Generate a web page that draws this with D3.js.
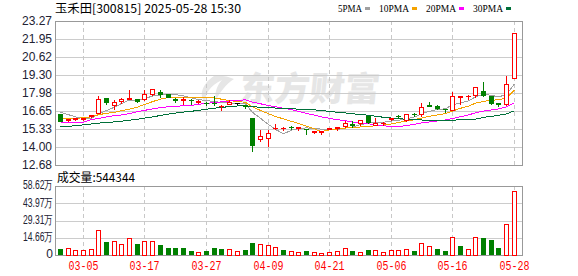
<!DOCTYPE html>
<html>
<head>
<meta charset="utf-8">
<script src="https://cdn.jsdelivr.net/npm/d3@7"></script>
<style>
  body { margin: 0; background: #fff; }
  svg { display: block; }
</style>
</head>
<body>
<svg id="chart"></svg>
<script>
// trading days shown on the chart
var dates = ["02-28","03-03","03-04","03-05","03-06","03-07","03-10","03-11","03-12","03-13",
  "03-14","03-17","03-18","03-19","03-20","03-21","03-24","03-25","03-26","03-27",
  "03-28","03-31","04-01","04-02","04-03","04-07","04-08","04-09","04-10","04-11",
  "04-14","04-15","04-16","04-17","04-18","04-21","04-22","04-23","04-24","04-25",
  "04-28","04-29","04-30","05-06","05-07","05-08","05-09","05-12","05-13","05-14",
  "05-15","05-16","05-19","05-20","05-21","05-22","05-23","05-26","05-27","05-28"];
var tickDates = ["03-05","03-17","03-27","04-09","04-21","05-06","05-16","05-28"];

var open = [16.45,16.02,16.08,16.09,16.30,16.51,17.59,17.07,17.37,17.51,
  17.56,17.51,17.93,18.05,17.93,17.54,17.47,17.47,17.34,17.27,
  17.26,17.00,17.15,17.24,17.10,16.11,14.57,14.67,15.40,15.38,
  15.50,15.40,15.35,15.08,15.08,15.35,15.43,15.53,15.67,15.75,
  16.31,15.65,15.75,16.08,16.31,15.99,16.46,16.46,17.10,17.02,
  16.82,16.72,17.70,17.72,17.84,18.13,17.74,17.26,17.16,19.08];
var high = [16.50,16.14,16.21,16.18,16.46,17.86,17.69,17.56,17.69,18.25,
  17.56,18.25,18.30,18.30,17.93,17.69,17.78,17.64,17.51,17.39,
  17.81,17.20,17.56,17.29,17.20,16.21,15.35,15.35,15.77,15.55,
  15.60,15.45,15.40,15.28,15.23,15.40,15.57,16.02,16.02,16.06,
  16.31,16.21,15.94,16.21,16.41,16.46,16.60,17.28,17.42,17.14,
  16.89,18.11,17.79,17.91,18.52,18.84,17.74,17.33,19.32,22.37];
var low = [15.88,15.94,16.02,16.02,16.19,16.48,17.15,16.80,17.27,17.51,
  17.32,17.44,17.83,17.69,17.69,17.32,17.19,17.15,17.27,17.10,
  17.10,16.69,17.15,17.20,16.90,13.69,14.42,14.06,15.35,15.23,
  15.30,15.23,14.94,15.04,14.94,15.33,15.25,15.48,15.48,15.65,
  15.77,15.62,15.65,15.96,16.11,15.94,16.29,16.29,17.00,16.77,
  16.60,16.70,17.19,17.50,17.67,17.79,17.14,17.02,17.06,19.08];
var close = [15.92,16.05,16.12,16.12,16.34,17.56,17.29,17.32,17.51,17.64,
  17.42,17.93,18.25,17.93,17.69,17.49,17.51,17.44,17.39,17.24,
  17.22,17.03,17.29,17.24,17.05,14.13,14.84,15.04,15.43,15.40,
  15.47,15.45,15.30,15.20,15.16,15.38,15.45,15.80,15.62,15.99,
  15.87,15.80,15.80,16.11,16.26,16.46,16.41,16.97,17.05,16.90,
  16.79,17.77,17.75,17.77,18.38,17.84,17.26,17.19,18.64,22.37];

var volume = [51000,57000,42000,45000,51000,212000,110000,119000,93000,142000,
  93000,119000,119000,85000,59000,59000,59000,35000,24000,34000,
  59000,51000,51000,34000,42000,102000,93000,85000,68000,42000,
  34000,25000,34000,25000,17000,25000,34000,59000,34000,25000,
  42000,42000,25000,42000,42000,51000,34000,102000,76000,51000,
  34000,153000,76000,51000,153000,144000,127000,59000,263000,544344];
// 1 = red (rising) volume bar, 0 = green
var volRise = [0,1,1,1,1,1,0,1,1,1, 0,1,1,0,0,0,0,0,1,0,
  0,0,1,1,0,0,1,1,1,0, 1,1,0,1,1,1,1,1,0,1,
  0,1,1,1,1,1,0,1,1,0, 0,1,0,1,1,0,0,0,1,1];

var ma5 = [16.56,16.38,16.22,16.12,16.11,16.44,16.69,16.93,17.20,17.46,
  17.44,17.56,17.75,17.83,17.84,17.86,17.77,17.61,17.50,17.41,
  17.36,17.26,17.23,17.20,17.17,16.55,16.11,15.66,15.30,14.97,
  15.24,15.36,15.41,15.36,15.32,15.30,15.30,15.40,15.48,15.65,
  15.75,15.82,15.82,15.91,15.97,16.09,16.21,16.44,16.63,16.76,
  16.82,17.10,17.25,17.40,17.69,17.90,17.80,17.69,17.86,18.66];
var ma10 = [16.10,16.10,16.12,16.15,16.22,16.38,16.48,16.55,16.68,16.79,
  16.94,17.13,17.34,17.52,17.65,17.65,17.67,17.68,17.67,17.63,
  17.61,17.52,17.42,17.35,17.29,16.95,16.69,16.45,16.25,16.07,
  15.89,15.73,15.54,15.33,15.14,15.27,15.33,15.40,15.42,15.48,
  15.52,15.56,15.61,15.70,15.81,15.92,16.01,16.13,16.27,16.36,
  16.46,16.65,16.85,17.01,17.23,17.36,17.45,17.47,17.63,18.18];
var ma20 = [15.82,15.82,15.82,15.82,16.02,16.11,16.21,16.31,16.36,16.46,
  16.61,16.70,16.80,16.90,16.97,17.00,17.03,17.07,17.14,17.21,
  17.27,17.32,17.38,17.44,17.47,17.30,17.18,17.06,16.96,16.85,
  16.75,16.63,16.48,16.34,16.22,16.11,16.01,15.93,15.84,15.77,
  15.71,15.65,15.57,15.51,15.48,15.59,15.67,15.77,15.85,15.92,
  15.99,16.10,16.23,16.36,16.52,16.64,16.73,16.80,16.95,17.27];
var ma30 = [15.48,15.52,15.57,15.63,15.70,15.76,15.80,15.85,15.90,15.97,
  16.05,16.13,16.22,16.32,16.42,16.50,16.57,16.63,16.70,16.78,
  16.86,16.92,16.97,17.02,17.02,16.97,16.93,16.90,16.87,16.83,
  16.81,16.79,16.77,16.73,16.70,16.62,16.56,16.51,16.45,16.39,
  16.34,16.27,16.19,16.13,16.08,16.05,16.01,15.99,15.98,15.97,
  15.96,15.98,16.00,16.01,16.06,16.18,16.26,16.33,16.44,16.67];

var priceTicks = [23.27, 21.95, 20.62, 19.30, 17.98, 16.65, 15.33, 14.00, 12.68];
var volTicks = [0, 146550, 293100, 439650, 586200];
var volTickLabels = ["0", "14.66万", "29.31万", "43.97万", "58.62万"];
var maNames = ["5PMA", "10PMA", "20PMA", "30PMA"];
var maSeries = [ma5, ma10, ma20, ma30];
var maColors = ["#a0a0a0", "#f5a300", "#ff00ff", "#00703a"];

var stockTitle = "玉禾田[300815] 2025-05-28 15:30";

var red = "#ff0000", green = "#008000";

// set the dimensions of the graph
var width = 578, height = 276;
var left = 55, right = 522;
var priceTop = 21, priceBottom = 165;
var volTop = 186, volBottom = 255;

var svg = d3.select("#chart")
    .attr("width", width)
    .attr("height", height)
    .style("font-family", "'Liberation Sans', sans-serif");

var rows = dates.map(function(d, i) {
    return { date: d, o: open[i], h: high[i], l: low[i], c: close[i],
             v: volume[i], rise: volRise[i] };
});

// X scale, one band per trading day
var x = d3.scaleBand()
    .domain(dates)
    .range([left, right])
    .paddingInner(0)
    .paddingOuter(0.345)
    .align(0.28);
function cx(d) { return Math.floor(x(d) + x.bandwidth() / 2) + 0.5; }

// Y scales
var y = d3.scaleLinear().domain([12.68, 23.27]).range([priceBottom, priceTop]);
var yv = d3.scaleLinear().domain([0, 586200]).range([volBottom, volTop]);
function py(v) { return Math.round(y(v)) + 0.5; }

// watermark
var wm = svg.append("g").attr("fill", "#e6e6e6");
wm.append("path")
    .attr("d", "M214,76 C202,84 198,96 206,103 C204,94 210,86 222,80 C218,84 214,92 216,100 " +
               "C220,92 226,84 234,79 C228,76 220,75 214,76 Z");
wm.append("text")
    .attr("x", 238).attr("y", 101)
    .attr("transform", "skewX(-6) translate(11,0)")
    .style("font-family", "'Noto Sans CJK SC'")
    .style("font-weight", 900)
    .style("font-size", "34px")
    .attr("textLength", 140)
    .attr("lengthAdjust", "spacingAndGlyphs")
    .text("东方财富");

// horizontal grid, price panel
svg.append("g").selectAll("line")
    .data(priceTicks)
    .join("line")
    .attr("x1", left).attr("x2", right)
    .attr("y1", function(d) { return py(d); })
    .attr("y2", function(d) { return py(d); })
    .attr("stroke", "#cccccc")
    .attr("shape-rendering", "crispEdges");

// horizontal grid, volume panel
svg.append("g").selectAll("line")
    .data(volTicks)
    .join("line")
    .attr("x1", left).attr("x2", right)
    .attr("y1", function(d) { return Math.round(yv(d)) + 0.5; })
    .attr("y2", function(d) { return Math.round(yv(d)) + 0.5; })
    .attr("stroke", "#cccccc")
    .attr("shape-rendering", "crispEdges");

// vertical dashed grid at labelled dates
[[priceTop, priceBottom], [volTop, volBottom]].forEach(function(r) {
    svg.append("g").selectAll("line")
        .data(tickDates)
        .join("line")
        .attr("x1", function(d) { return cx(d); })
        .attr("x2", function(d) { return cx(d); })
        .attr("y1", r[0]).attr("y2", r[1])
        .attr("stroke", "#c8c8c8")
        .attr("stroke-dasharray", "4,3")
        .attr("shape-rendering", "crispEdges");
});

// panel frames
[[priceTop, priceBottom], [volTop, volBottom]].forEach(function(r) {
    svg.append("rect")
        .attr("x", left + 0.5).attr("y", r[0] + 0.5)
        .attr("width", right - left).attr("height", r[1] - r[0])
        .attr("fill", "none")
        .attr("stroke", "#999999")
        .attr("shape-rendering", "crispEdges");
});

// moving averages
var line = d3.line()
    .x(function(d, i) { return cx(dates[i]); })
    .y(function(d) { return y(d); });
svg.append("g").selectAll("path")
    .data(maSeries)
    .join("path")
    .attr("d", function(d) { return line(d); })
    .attr("fill", "none")
    .attr("stroke", function(d, i) { return maColors[i]; })
    .attr("stroke-width", 1)
    .attr("shape-rendering", "crispEdges");

// candles
var candles = svg.append("g").attr("shape-rendering", "crispEdges");
rows.forEach(function(d) {
    var xc = cx(d.date);
    var up = d.c > d.o, flat = d.c === d.o;
    var col = flat ? "#000000" : (up ? red : green);
    var top = py(Math.max(d.o, d.c)), bot = py(Math.min(d.o, d.c));
    if (up && bot - top >= 2) {
        // hollow body, wick stops at the body
        candles.append("line").attr("x1", xc).attr("x2", xc)
            .attr("y1", py(d.h)).attr("y2", top).attr("stroke", col);
        candles.append("line").attr("x1", xc).attr("x2", xc)
            .attr("y1", bot).attr("y2", py(d.l)).attr("stroke", col);
        candles.append("rect")
            .attr("x", xc - 2).attr("y", top)
            .attr("width", 4).attr("height", bot - top)
            .attr("fill", "#fff").attr("stroke", col);
    } else {
        candles.append("line").attr("x1", xc).attr("x2", xc)
            .attr("y1", py(d.h)).attr("y2", py(d.l)).attr("stroke", col);
        candles.append("rect")
            .attr("x", xc - 2.5).attr("y", top - 0.5)
            .attr("width", 5).attr("height", Math.max(1, bot - top + 1))
            .attr("fill", col);
    }
});

// volume bars
var vb = svg.append("g").attr("shape-rendering", "crispEdges");
rows.forEach(function(d) {
    var xc = cx(d.date);
    var t = Math.round(yv(d.v)) + 0.5;
    if (d.rise) {
        vb.append("rect")
            .attr("x", xc - 2).attr("y", t)
            .attr("width", 4).attr("height", Math.max(0, volBottom - t))
            .attr("fill", "#fff").attr("stroke", red);
    } else {
        vb.append("rect")
            .attr("x", xc - 2.5).attr("y", t - 0.5)
            .attr("width", 5).attr("height", volBottom - t + 0.5)
            .attr("fill", green);
    }
});

// price axis labels
svg.append("g").selectAll("text")
    .data(priceTicks)
    .join("text")
    .attr("x", 52)
    .attr("y", function(d) { return y(d); })
    .attr("dy", "0.36em")
    .attr("text-anchor", "end")
    .style("font-size", "12px")
    .attr("fill", "#222233")
    .text(function(d) { return d.toFixed(2); });

// volume axis labels
svg.append("g").selectAll("text")
    .data(volTicks)
    .join("text")
    .attr("x", 53)
    .attr("y", function(d) { return yv(d) - 1; })
    .attr("dy", "0.36em")
    .attr("text-anchor", "end")
    .style("font-size", "12px")
    .attr("fill", "#222233")
    .each(function(d, i) {
        var t = d3.select(this).text(volTickLabels[i]);
        if (i > 0) t.attr("textLength", 30).attr("lengthAdjust", "spacingAndGlyphs");
    });

// date labels
svg.append("g").selectAll("text")
    .data(tickDates)
    .join("text")
    .attr("x", function(d) { return cx(d); })
    .attr("y", 270)
    .attr("text-anchor", "middle")
    .style("font-family", "'Liberation Mono', monospace")
    .style("font-size", "12px")
    .attr("textLength", 30)
    .attr("lengthAdjust", "spacingAndGlyphs")
    .attr("fill", red)
    .text(function(d) { return d; });

// title
svg.append("text")
    .attr("x", 55).attr("y", 13)
    .style("font-family", "'Noto Sans CJK SC'")
    .style("font-size", "12px")
    .attr("textLength", 186)
    .attr("lengthAdjust", "spacingAndGlyphs")
    .attr("fill", "#000")
    .text(stockTitle);

// volume caption
svg.append("text")
    .attr("x", 57).attr("y", 182)
    .style("font-family", "'Noto Sans CJK SC'")
    .style("font-size", "12px")
    .attr("textLength", 78)
    .attr("lengthAdjust", "spacingAndGlyphs")
    .attr("fill", "#000")
    .text("成交量:" + volume[volume.length - 1]);

// legend
var lx = 338;
maNames.forEach(function(name, i) {
    var w = name.length * 6;
    svg.append("text")
        .attr("x", lx).attr("y", 12)
        .style("font-family", "'Liberation Serif', serif")
        .style("font-size", "11px")
        .attr("textLength", w)
        .attr("lengthAdjust", "spacingAndGlyphs")
        .attr("fill", "#000")
        .text(name);
    svg.append("rect")
        .attr("x", lx + w + 3).attr("y", 7)
        .attr("width", 5).attr("height", 3)
        .attr("fill", maColors[i]);
    lx += w + 3 + 5 + 9;
});
</script>
</body>
</html>
